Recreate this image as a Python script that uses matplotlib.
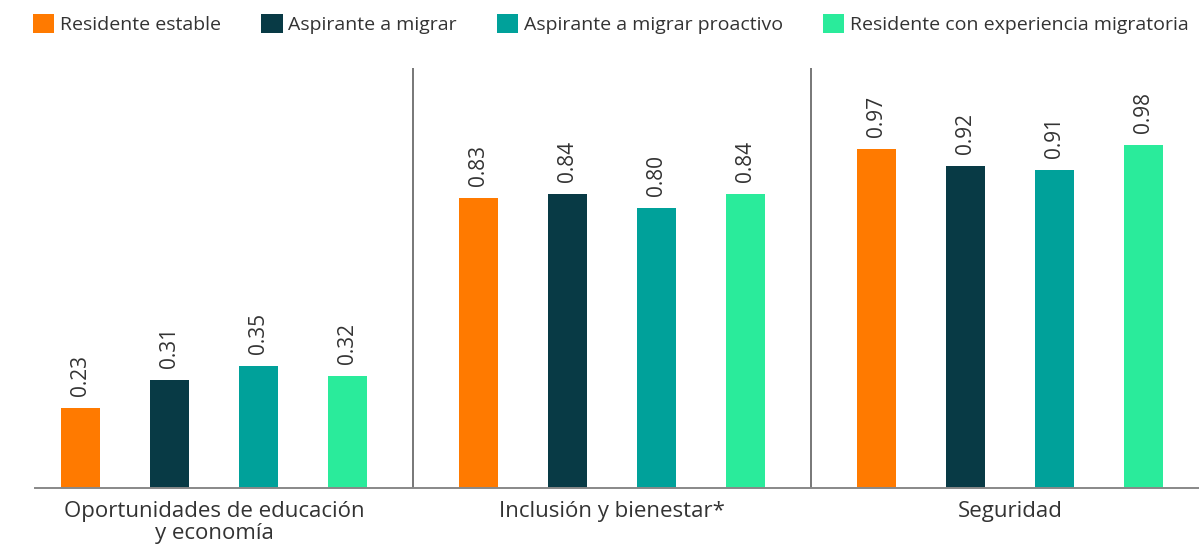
import matplotlib.pyplot as plt
import numpy as np
from matplotlib.patches import Patch

categorias = ["Oportunidades de educación\ny economía", "Inclusión y bienestar*", "Seguridad"]
series = ["Residente estable", "Aspirante a migrar", "Aspirante a migrar proactivo",
          "Residente con experiencia migratoria"]
valores = [
    [0.23, 0.83, 0.97],
    [0.31, 0.84, 0.92],
    [0.35, 0.80, 0.91],
    [0.32, 0.84, 0.98],
]
colores = ["#FF7A00", "#083A45", "#00A19A", "#2AEB9B"]

plt.rcParams['font.family'] = ['Open Sans', 'DejaVu Sans']
texto = "#333333"

fig = plt.figure(figsize=(11.99, 5.46), dpi=100)
ax = fig.add_axes([35 / 1199, 58 / 546, 1 - 35 / 1199, 420 / 546])

x = np.arange(len(categorias))
paso = 0.224
ancho = 0.098
for i, (serie, vals, col) in enumerate(zip(series, valores, colores)):
    pos = x + (i - 1.5) * paso
    ax.bar(pos, vals, width=ancho, color=col, label=serie, zorder=2)
    for p, v in zip(pos, vals):
        ax.annotate(f"{v:.2f}", (p, v), xytext=(0, 8.5), textcoords="offset points",
                    rotation=90, ha="center", va="bottom", fontsize=15,
                    color=texto)

# separadores entre grupos
for s in [0.5, 1.5]:
    ax.axvline(s, color="#777777", linewidth=1.4, zorder=1)

ax.set_xlim(-0.45, 2.475)
ax.set_ylim(0, 1.2)
ax.set_xticks(x)
ax.set_xticklabels(categorias, fontsize=16, color=texto, linespacing=1.12)
ax.tick_params(axis="x", length=0, pad=9)
ax.set_yticks([])
for lado in ["top", "right", "left"]:
    ax.spines[lado].set_visible(False)
ax.spines["bottom"].set_color("#888888")
ax.spines["bottom"].set_linewidth(1.4)

handles = [Patch(facecolor=c, label=s) for s, c in zip(series, colores)]
fig.legend(handles=handles, loc="upper left", bbox_to_anchor=(0.013, 1.006), ncol=4,
           frameon=False, fontsize=14, handlelength=1.1, handleheight=1.1,
           handletextpad=0.3, columnspacing=2.05, labelcolor=texto)

fig.savefig("out.png", dpi=100)
